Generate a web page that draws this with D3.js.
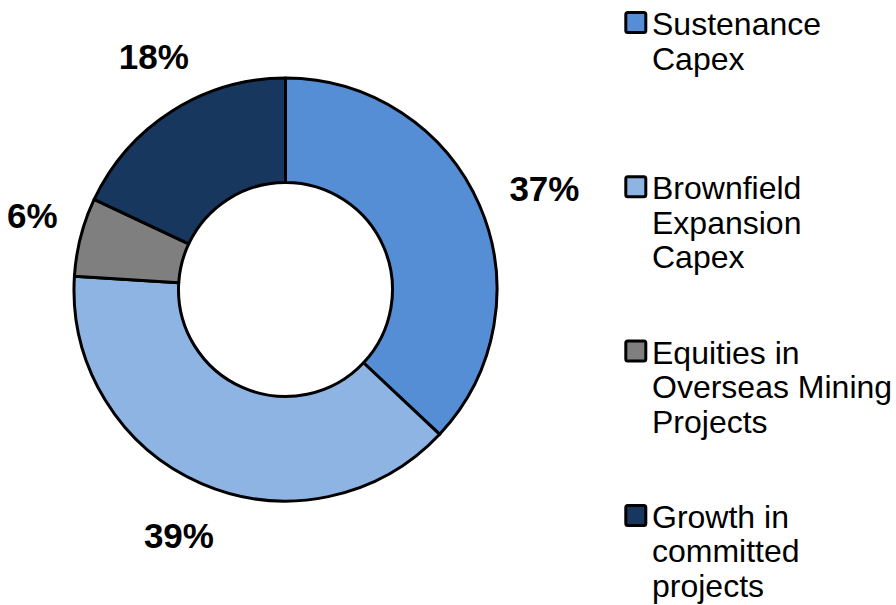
<!DOCTYPE html>
<html>
<head>
<meta charset="utf-8">
<script src="https://cdn.jsdelivr.net/npm/d3@7/dist/d3.min.js"></script>
<style>
  html, body { margin: 0; padding: 0; background: #fff; }
  svg { display: block; }
</style>
</head>
<body>
<svg id="chart" width="896" height="605"></svg>
<script>
// Capex allocation split (percent of total)
const categories = [
  "Sustenance Capex",
  "Brownfield Expansion Capex",
  "Equities in Overseas Mining Projects",
  "Growth in committed projects"
];
const values = [37, 39, 6, 18];
const valueLabels = ["37%", "39%", "6%", "18%"];
const legendLines = [
  ["Sustenance", "Capex"],
  ["Brownfield", "Expansion", "Capex"],
  ["Equities in", "Overseas Mining", "Projects"],
  ["Growth in", "committed", "projects"]
];
const colors = ["#558ED5", "#8EB4E3", "#7F7F7F", "#17375E"];

const svg = d3.select("#chart");
const cx = 285.5, cy = 289.5;
const outerR = 211.5, innerR = 107;

// label placement: a little past the ring, turned slightly clockwise
const labelR = 271, labelShiftX = 7.5, labelTurn = 1.5 * Math.PI / 180;

const color = d3.scaleOrdinal().domain(categories).range(colors);

const pie = d3.pie().sort(null).value(d => d.value).startAngle(0).endAngle(2 * Math.PI);
const data = categories.map((c, i) => ({ name: c, value: values[i], label: valueLabels[i] }));
const arcs = pie(data);

const arc = d3.arc().innerRadius(innerR).outerRadius(outerR);

const g = svg.append("g").attr("transform", `translate(${cx},${cy})`);

g.selectAll("path.slice")
  .data(arcs)
  .join("path")
  .attr("class", "slice")
  .attr("d", arc)
  .attr("fill", d => color(d.data.name))
  .attr("stroke", "#000")
  .attr("stroke-width", 3)
  .attr("stroke-linejoin", "round");

const midAngle = d => (d.startAngle + d.endAngle) / 2 + labelTurn;

// percentage labels outside the ring
g.selectAll("text.pct")
  .data(arcs)
  .join("text")
  .attr("class", "pct")
  .attr("x", d => labelShiftX + Math.sin(midAngle(d)) * labelR)
  .attr("y", d => -Math.cos(midAngle(d)) * labelR)
  .attr("dy", "0.35em")
  .attr("text-anchor", "middle")
  .attr("font-family", "'Liberation Sans', Arial, sans-serif")
  .attr("font-weight", "bold")
  .attr("font-size", 35)
  .attr("fill", "#000")
  .text(d => d.data.label);

// legend
const legendX = 625.8, textX = 652;
const firstBaseline = 35, entryStep = 164.3, lineStep = 34.5;

const lg = svg.append("g").attr("class", "legend");
const entries = lg.selectAll("g.entry")
  .data(categories)
  .join("g")
  .attr("class", "entry")
  .attr("transform", (d, i) => `translate(0,${firstBaseline + i * entryStep})`);

entries.append("rect")
  .attr("x", legendX)
  .attr("y", -22.5)
  .attr("width", 20)
  .attr("height", 20)
  .attr("rx", 2)
  .attr("fill", d => color(d))
  .attr("stroke", "#000")
  .attr("stroke-width", 3);

entries.append("text")
  .attr("font-family", "'Liberation Sans', Arial, sans-serif")
  .attr("font-size", 32)
  .attr("fill", "#000")
  .selectAll("tspan")
  .data((d, i) => legendLines[i])
  .join("tspan")
  .attr("x", textX)
  .attr("y", (d, j) => j * lineStep)
  .text(d => d);
</script>
</body>
</html>
